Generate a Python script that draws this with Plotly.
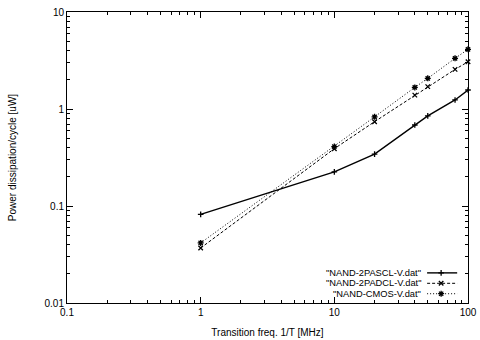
import plotly.graph_objects as go

freq = [1, 10, 20, 40, 50, 80, 100]
pascl = [0.082, 0.225, 0.343, 0.684, 0.85, 1.24, 1.57]
padcl = [0.0369, 0.39, 0.74, 1.39, 1.70, 2.56, 3.07]
cmos = [0.0416, 0.41, 0.83, 1.67, 2.07, 3.33, 4.12]
names = ['"NAND-2PASCL-V.dat"', '"NAND-2PADCL-V.dat"', '"NAND-CMOS-V.dat"']

FONT = "Liberation Sans, Arial, sans-serif"
styles = [
    dict(dash="solid", symbol="cross-thin-open", size=4, width=1.4),
    dict(dash="3px,2px", symbol="x-thin-open", size=4.5, width=1.0),
    dict(dash="1px,2px", symbol="asterisk-open", size=5, width=1.0),
]

fig = go.Figure()
for ys, nm, st in zip([pascl, padcl, cmos], names, styles):
    fig.add_trace(go.Scatter(
        x=freq, y=ys, name=nm, mode="lines+markers",
        line=dict(color="black", width=st["width"], dash=st["dash"]),
        marker=dict(symbol=st["symbol"], size=st["size"], color="black",
                    line=dict(color="black", width=1.3)),
        showlegend=False, cliponaxis=False))

# custom gnuplot-style legend (text right, sample to the right)
leg_y = [0.1035, 0.0677, 0.0319]
for nm, st, yy in zip(names, styles, leg_y):
    fig.add_trace(go.Scatter(
        x=[0.898, 0.933, 0.973], y=[yy, yy, yy], xaxis="x2", yaxis="y2",
        mode="lines", line=dict(color="black", width=st["width"], dash=st["dash"]),
        showlegend=False, hoverinfo="skip"))
    fig.add_trace(go.Scatter(
        x=[0.933], y=[yy], xaxis="x2", yaxis="y2", mode="markers",
        marker=dict(symbol=st["symbol"], size=st["size"], color="black",
                    line=dict(color="black", width=1.3)),
        showlegend=False, hoverinfo="skip"))
    fig.add_annotation(x=0.885, y=yy, xref="x2", yref="y2", text=nm,
                       showarrow=False, xanchor="right", yanchor="middle",
                       borderpad=0,
                       font=dict(family=FONT, size=9.3, color="black"))

minor_vals = []
for dec in [0.001, 0.01, 0.1, 1, 10]:
    for k in range(2, 10):
        minor_vals.append(dec * k)

axis_common = dict(
    type="log", showgrid=False, zeroline=False, showline=True,
    linecolor="black", linewidth=1, mirror="ticks", ticks="inside",
    ticklen=6, tickcolor="black", tickwidth=1, automargin=False,
    tickfont=dict(family=FONT, size=10, color="black"),
    minor=dict(ticks="inside", ticklen=3, tickcolor="black", tickwidth=1,
               tickvals=minor_vals, showgrid=False),
)

fig.update_layout(
    width=480, height=340,
    margin=dict(l=67, r=12, t=12, b=37),
    plot_bgcolor="white", paper_bgcolor="white",
    font=dict(family=FONT, size=10, color="black"),
    xaxis=dict(axis_common, range=[-1, 2], tickvals=[0.1, 1, 10, 100],
               ticktext=["0.1", "1", "10", "100"],
               title=dict(text="Transition freq. 1/T [MHz]", standoff=11,
                          font=dict(family=FONT, size=10))),
    yaxis=dict(axis_common, range=[-2, 1], tickvals=[0.01, 0.1, 1, 10],
               ticktext=["0.01", "0.1", "1", "10"],
               title=dict(text="Power dissipation/cycle [uW]", standoff=26,
                          font=dict(family=FONT, size=10))),
    xaxis2=dict(overlaying="x", range=[0, 1], visible=False, fixedrange=True),
    yaxis2=dict(overlaying="y", range=[0, 1], visible=False, fixedrange=True),
    showlegend=False,
)

fig.write_html("out.html")
